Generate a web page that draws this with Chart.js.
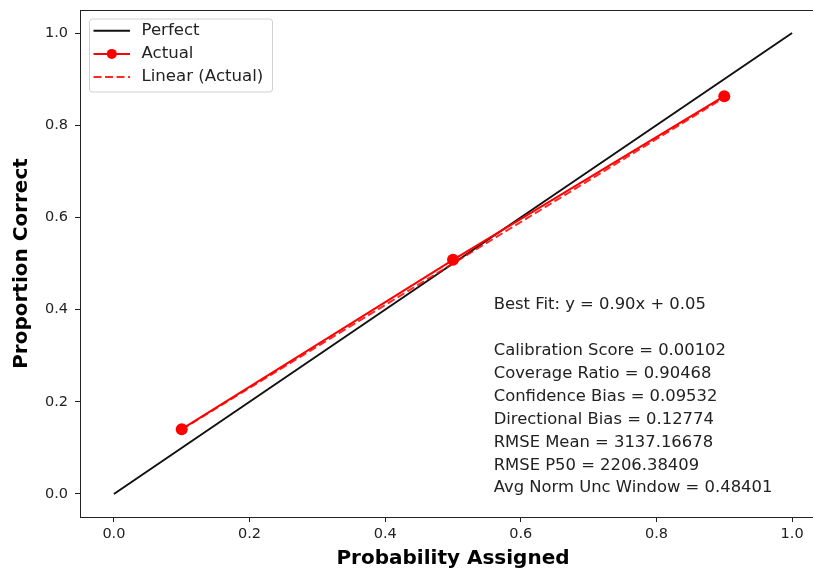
<!DOCTYPE html>
<html>
<head>
    <title>Calibration</title>
    <script src="https://cdn.jsdelivr.net/npm/chart.js"></script>
    <style>
        html, body {
            margin: 0;
            padding: 0;
            overflow: hidden;
            background: #fff;
        }
        #chartContainer {
            width: 826px;
            height: 572px;
        }
    </style>
</head>
<body>

    <div id="chartContainer">
        <canvas id="myChart" width="826" height="572"></canvas>
    </div>

    <script>
      // reference diagonal
      const perfectX = [0, 1];
      const perfectY = [0, 1];

      // observed calibration points
      const probAssigned = [0.1, 0.5, 0.9];
      const propCorrect = [0.1405, 0.508, 0.863];

      // best fit line y = 0.90x + 0.05, evaluated at the ends
      const fitX = [0.1, 0.9];
      const fitY = [0.14, 0.86];

      const tickValues = [0.0, 0.2, 0.4, 0.6, 0.8, 1.0];

      const statLines = [
          'Best Fit: y = 0.90x + 0.05',
          '',
          'Calibration Score = 0.00102',
          'Coverage Ratio = 0.90468',
          'Confidence Bias = 0.09532',
          'Directional Bias = 0.12774',
          'RMSE Mean = 3137.16678',
          'RMSE P50 = 2206.38409',
          'Avg Norm Unc Window = 0.48401'
      ];

      const FONT = "'DejaVu Sans', sans-serif";
      const INK = '#222';

      function toPoints(xs, ys) {
          return xs.map((x, i) => ({ x: x, y: ys[i] }));
      }

      // axes frame, legend box and stats text
      const decorations = {
          id: 'decorations',
          afterDatasetsDraw(chart) {
              const ctx = chart.ctx;
              const area = chart.chartArea;
              const xs = chart.scales.x;
              const ys = chart.scales.y;

              ctx.save();
              ctx.strokeStyle = INK;
              ctx.lineWidth = 1;
              ctx.strokeRect(area.left + 0.5, area.top + 0.5, area.right - area.left - 1, area.bottom - area.top);

              // stats block
              ctx.fillStyle = INK;
              ctx.font = '16.4px ' + FONT;
              ctx.textAlign = 'left';
              ctx.textBaseline = 'middle';
              const tx = xs.getPixelForValue(0.56);
              const ty = ys.getPixelForValue(0.41);
              statLines.forEach((line, i) => {
                  ctx.fillText(line, tx, ty + i * 22.9);
              });

              // legend
              const lx = 89.5, ly = 19, lw = 183, lh = 73;
              ctx.beginPath();
              ctx.roundRect(lx, ly, lw, lh, 3);
              ctx.fillStyle = 'rgba(255,255,255,0.8)';
              ctx.fill();
              ctx.strokeStyle = '#d0d0d0';
              ctx.lineWidth = 1;
              ctx.stroke();

              chart.data.datasets.forEach((ds, i) => {
                  const cy = 30.7 + i * 23.2;
                  ctx.beginPath();
                  ctx.setLineDash(ds.borderDash || []);
                  ctx.strokeStyle = ds.borderColor;
                  ctx.lineWidth = ds.borderWidth;
                  ctx.moveTo(93.5, cy);
                  ctx.lineTo(130, cy);
                  ctx.stroke();
                  ctx.setLineDash([]);
                  if (ds.pointRadius > 0) {
                      ctx.beginPath();
                      ctx.fillStyle = ds.pointBackgroundColor;
                      ctx.arc(111.8, cy, 5, 0, Math.PI * 2);
                      ctx.fill();
                  }
                  ctx.fillStyle = INK;
                  ctx.font = '16.6px ' + FONT;
                  ctx.textAlign = 'left';
                  ctx.textBaseline = 'middle';
                  ctx.fillText(ds.label, 141.5, cy);
              });
              ctx.restore();
          }
      };

      const config = {
          type: 'scatter',
          data: {
              datasets: [
                  {
                      label: 'Perfect',
                      data: toPoints(perfectX, perfectY),
                      showLine: true,
                      borderColor: '#111',
                      borderWidth: 2,
                      pointRadius: 0,
                      order: 3
                  },
                  {
                      label: 'Actual',
                      data: toPoints(probAssigned, propCorrect),
                      showLine: true,
                      borderColor: '#ff0000',
                      borderWidth: 2,
                      pointRadius: 6,
                      pointBackgroundColor: '#ff0000',
                      pointBorderColor: '#ff0000',
                      pointBorderWidth: 0,
                      order: 2
                  },
                  {
                      label: 'Linear (Actual)',
                      data: toPoints(fitX, fitY),
                      showLine: true,
                      borderColor: 'rgba(255,0,0,0.85)',
                      borderWidth: 2,
                      borderDash: [8, 3.5],
                      pointRadius: 0,
                      order: 1
                  }
              ]
          },
          options: {
              responsive: false,
              animation: false,
              layout: {
                  autoPadding: false,
                  padding: { top: 10, right: 0, bottom: 0, left: 0 }
              },
              plugins: {
                  legend: { display: false },
                  tooltip: { enabled: false }
              },
              scales: {
                  x: {
                      type: 'linear',
                      min: -0.05,
                      max: 1.05,
                      afterBuildTicks: s => { s.ticks = tickValues.map(v => ({ value: v })); },
                      afterFit: s => {
                          s.height = 55;
                          s.paddingLeft = 0;
                          s.paddingRight = 0;
                      },
                      grid: { drawOnChartArea: false, drawTicks: true, tickLength: 5, color: INK },
                      border: { display: true, color: INK },
                      ticks: {
                          color: INK,
                          padding: 4,
                          maxRotation: 0,
                          font: { family: FONT, size: 14.5 },
                          callback: v => v.toFixed(1)
                      },
                      title: {
                          display: true,
                          text: 'Probability Assigned',
                          color: '#000',
                          padding: { top: 0, bottom: 1.5 },
                          font: { family: FONT, size: 20, weight: 'bold' }
                      }
                  },
                  y: {
                      type: 'linear',
                      min: -0.05,
                      max: 1.05,
                      afterBuildTicks: s => { s.ticks = tickValues.map(v => ({ value: v })); },
                      afterFit: s => {
                          s.width = 80;
                          s.paddingTop = 0;
                          s.paddingBottom = 0;
                      },
                      grid: { drawOnChartArea: false, drawTicks: true, tickLength: 5, color: INK },
                      border: { display: true, color: INK },
                      ticks: {
                          color: INK,
                          padding: 7,
                          font: { family: FONT, size: 14.5 },
                          callback: v => v.toFixed(1)
                      },
                      title: {
                          display: true,
                          text: 'Proportion Correct',
                          color: '#000',
                          padding: { top: 10, bottom: 0 },
                          font: { family: FONT, size: 20, weight: 'bold' }
                      }
                  }
              }
          },
          plugins: [decorations]
      };

      new Chart(document.getElementById('myChart'), config);
  </script>

</body>
</html>
